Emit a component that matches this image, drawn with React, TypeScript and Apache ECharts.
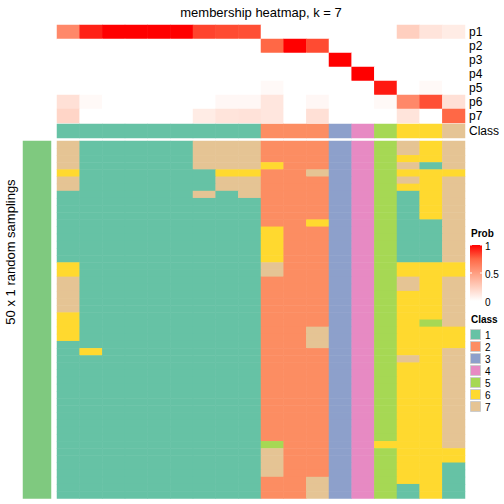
import React, { useEffect, useRef } from "react";
import * as echarts from "echarts";

const FONT = "Liberation Sans, Arial, Helvetica, sans-serif";

const probLabels = ["p1", "p2", "p3", "p4", "p5", "p6", "p7"];
const p1 = [0.6, 0.92, 1, 1, 1, 1, 0.84, 0.82, 0.81, 0, 0, 0, 0, 0, 0, 0.25, 0.14, 0.1];
const p2 = [0, 0, 0, 0, 0, 0, 0, 0, 0, 0.75, 1, 0.82, 0, 0, 0, 0, 0, 0];
const p3 = [0, 0, 0, 0, 0, 0, 0, 0, 0, 0, 0, 0, 1, 0, 0, 0, 0, 0];
const p4 = [0, 0, 0, 0, 0, 0, 0, 0, 0, 0, 0, 0, 0, 1, 0, 0, 0, 0];
const p5 = [0, 0, 0, 0, 0, 0, 0, 0, 0, 0.03, 0, 0, 0, 0, 0.94, 0, 0.03, 0];
const p6 = [0.16, 0.03, 0, 0, 0, 0, 0, 0.04, 0.04, 0.13, 0, 0.04, 0, 0, 0.03, 0.6, 0.81, 0.16];
const p7 = [0.22, 0, 0, 0, 0, 0, 0.1, 0.14, 0.15, 0.13, 0, 0.16, 0, 0, 0, 0.14, 0, 0.75];
const probMatrix = [p1, p2, p3, p4, p5, p6, p7];

const classRow = [1, 1, 1, 1, 1, 1, 1, 1, 1, 2, 2, 2, 3, 4, 5, 6, 6, 7];

// 50 random samplings x 18 samples, class per cell
const samplingRows = [
  "711111777222345767",
  "711111777222345767",
  "711111777222345667",
  "711111777622345717",
  "611111166227345666",
  "711111177222345767",
  "711111177222345667",
  "111111717222345167",
  "111111111222345167",
  "111111111222345167",
  "111111111222345167",
  "111111111226345117",
  "111111111622345117",
  "111111111622345117",
  "111111111622345117",
  "111111111622345117",
  "111111111622345117",
  "611111111722345666",
  "611111111722345666",
  "711111111222345767",
  "711111111222345767",
  "711111111222345667",
  "711111111222345667",
  "711111111222345667",
  "611111111222345667",
  "611111111222345657",
  "611111111227345666",
  "611111111227345666",
  "111111111227345666",
  "161111111222345667",
  "111111111222345767",
  "111111111222345667",
  "111111111222345667",
  "111111111222345667",
  "111111111222345667",
  "111111111222345667",
  "111111111222345667",
  "111111111222345667",
  "111111111222345667",
  "111111111222345667",
  "111111111222345667",
  "111111111222345667",
  "111111111522346667",
  "111111111722345666",
  "111111111722345666",
  "111111111722345661",
  "111111111722345661",
  "111111111227345661",
  "111111111227345161",
  "111111111227345161",
];

const classNames = ["1", "2", "3", "4", "5", "6", "7"];
const classColors = ["#66C2A5", "#FC8D62", "#8DA0CB", "#E78AC3", "#A6D854", "#FFD92F", "#E5C494"];
const probStops = ["#FFFFFF", "#FFCFBF", "#FF9E81", "#FF6846", "#FF0000"];
const probTicks = ["0", "0.5", "1"];
const rowGroupColor = "#7FC97F";

const title = "membership heatmap, k = 7";
const leftTitle = "50 x 1 random samplings";
const groupTitle = "top 1000 rows";

export default function App() {
  const ref = useRef<HTMLDivElement>(null);

  useEffect(() => {
    if (!ref.current) return;
    const chart = echarts.init(ref.current, null, { renderer: "svg" });

    const colCats = classRow.map((_, i) => String(i));
    const sampCats = samplingRows.map((_, i) => String(i));

    const probData: number[][] = [];
    probMatrix.forEach((row, r) => row.forEach((v, c) => probData.push([c, r, v])));
    const classData = classRow.map((v, c) => [c, 0, v]);
    const sampData: number[][] = [];
    samplingRows.forEach((row, r) =>
      row.split("").forEach((ch, c) => sampData.push([c, r, Number(ch)]))
    );

    const L = 57, W = 408;
    const hidden = { show: false };
    const catAxis = (gridIndex: number, data: string[], extra: any = {}) => ({
      type: "category",
      gridIndex,
      data,
      axisLine: hidden,
      axisTick: hidden,
      splitLine: hidden,
      axisLabel: { show: false },
      ...extra,
    });
    const rightLabel = {
      show: true,
      interval: 0,
      fontSize: 12,
      color: "#000",
      fontFamily: FONT,
      margin: 4,
    };

    const classPieces = classColors.map((col, i) => ({ value: i + 1, color: col }));

    const legendX = 470;
    const barTop = 245, barH = 56;
    const graphics: any[] = [
      {
        type: "text",
        x: 261,
        y: 12,
        style: { text: title, font: `13px ${FONT}`, fill: "#000", align: "center", verticalAlign: "middle" },
      },
      {
        type: "text",
        x: 10,
        y: 252,
        rotation: Math.PI / 2,
        style: { text: leftTitle, font: `13px ${FONT}`, fill: "#000", align: "center", verticalAlign: "middle" },
      },
      {
        type: "text",
        x: 37,
        y: 320,
        rotation: Math.PI / 2,
        style: { text: groupTitle, font: `10px ${FONT}`, fill: "#000", align: "center", verticalAlign: "middle" },
      },
      {
        type: "text",
        x: legendX + 1,
        y: 233.5,
        style: { text: "Prob", font: `bold 10px ${FONT}`, fill: "#000", align: "left", verticalAlign: "middle" },
      },
      {
        type: "rect",
        shape: { x: legendX, y: barTop, width: 12, height: barH },
        style: {
          fill: {
            type: "linear",
            x: 0, y: 0, x2: 0, y2: 1,
            colorStops: probStops
              .slice()
              .reverse()
              .map((c, i) => ({ offset: i / (probStops.length - 1), color: c })),
          },
        },
      },
    ];
    probTicks.forEach((t, i) => {
      const y = barTop + barH - (i / (probTicks.length - 1)) * barH;
      graphics.push({
        type: "text",
        x: legendX + 15,
        y: y + 1.5,
        style: { text: t, font: `10px ${FONT}`, fill: "#000", align: "left", verticalAlign: "middle" },
      });
      if (i > 0) {
        graphics.push({ type: "line", shape: { x1: legendX, y1: y, x2: legendX + 2, y2: y }, style: { stroke: "#fff", lineWidth: 1 } });
        graphics.push({ type: "line", shape: { x1: legendX + 10, y1: y, x2: legendX + 12, y2: y }, style: { stroke: "#fff", lineWidth: 1 } });
      }
    });
    graphics.push({
      type: "text",
      x: legendX + 1,
      y: 319,
      style: { text: "Class", font: `bold 10px ${FONT}`, fill: "#000", align: "left", verticalAlign: "middle" },
    });
    classNames.forEach((n, i) => {
      const y = 329 + i * 12;
      graphics.push({
        type: "rect",
        shape: { x: legendX + 0.5, y: y + 0.5, width: 10, height: 10 },
        style: { fill: classColors[i], stroke: "#cccccc", lineWidth: 1 },
      });
      graphics.push({
        type: "text",
        x: legendX + 15,
        y: y + 6,
        style: { text: n, font: `10px ${FONT}`, fill: "#000", align: "left", verticalAlign: "middle" },
      });
    });

    const option: any = {
      animation: false,
      backgroundColor: "#fff",
      grid: [
        { left: L, top: 25, width: W, height: 98 },
        { left: L, top: 124, width: W, height: 14 },
        { left: L, top: 141, width: W, height: 357.5 },
        { left: 23, top: 141, width: 28, height: 357.5 },
      ],
      xAxis: [
        catAxis(0, colCats),
        catAxis(1, colCats),
        catAxis(2, colCats),
        catAxis(3, ["g"]),
      ],
      yAxis: [
        catAxis(0, probLabels, { inverse: true, position: "right", axisLabel: rightLabel }),
        catAxis(1, ["Class"], { position: "right", axisLabel: rightLabel }),
        catAxis(2, sampCats, { inverse: true }),
        catAxis(3, ["g"]),
      ],
      visualMap: [
        { type: "continuous", show: false, min: 0, max: 1, seriesIndex: 0, inRange: { color: probStops } },
        { type: "piecewise", show: false, seriesIndex: [1, 2], pieces: classPieces },
        { type: "piecewise", show: false, seriesIndex: 3, pieces: [{ value: 1, color: rowGroupColor }] },
      ],
      series: [
        { type: "heatmap", xAxisIndex: 0, yAxisIndex: 0, data: probData, emphasis: { disabled: true }, itemStyle: { borderWidth: 0 } },
        { type: "heatmap", xAxisIndex: 1, yAxisIndex: 1, data: classData, emphasis: { disabled: true }, itemStyle: { borderWidth: 0 } },
        { type: "heatmap", xAxisIndex: 2, yAxisIndex: 2, data: sampData, emphasis: { disabled: true }, itemStyle: { borderWidth: 0 } },
        { type: "heatmap", xAxisIndex: 3, yAxisIndex: 3, data: [[0, 0, 1]], emphasis: { disabled: true }, itemStyle: { borderWidth: 0 } },
      ],
      graphic: graphics,
    };
    chart.setOption(option);
    return () => chart.dispose();
  }, []);

  return (
    <div
      ref={ref}
      style={{ position: "absolute", left: 0, top: 0, width: 504, height: 504, background: "#fff" }}
    />
  );
}
